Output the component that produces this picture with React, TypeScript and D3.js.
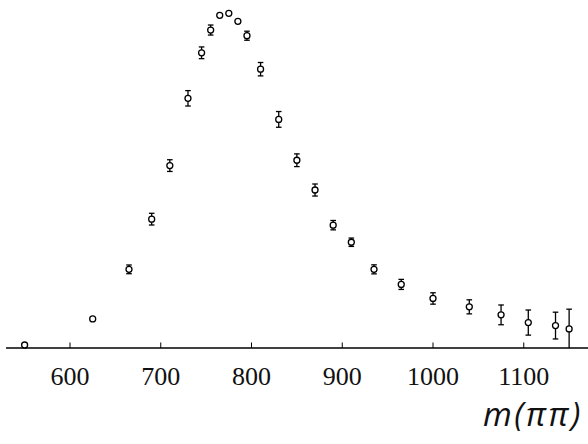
import React from "react";
import * as d3 from "d3";

// Invariant mass bins (MeV) and normalised event yields with errors
const masses = [550, 625, 665, 690, 710, 730, 745, 755, 765, 775, 785, 795, 810, 830, 850, 870, 890, 910, 935, 965, 1000, 1040, 1075, 1105, 1135, 1150];
const yields = [0.9, 8.7, 23.5, 38.5, 54.5, 74.6, 88.2, 95.0, 99.4, 100, 97.6, 93.3, 83.3, 68.3, 56.1, 47.2, 36.7, 31.6, 23.5, 19.0, 14.8, 12.3, 9.9, 7.6, 6.7, 5.7];
const errors = [0, 0, 1.3, 1.75, 1.75, 2.3, 1.75, 1.5, 0.8, 0.8, 0.8, 1.35, 2.0, 2.35, 1.9, 1.8, 1.4, 1.25, 1.35, 1.5, 1.7, 2.1, 2.95, 3.75, 4.0, 5.9];
const tickValues = [600, 700, 800, 900, 1000, 1100];
const axisTitle = "m(ππ)";

const W = 588;
const H = 444;

export default function App() {
  const x = d3.scaleLinear().domain([600, 1100]).range([70, 523.75]);
  const y = d3.scaleLinear().domain([0, 100]).range([348, 13.3]);
  const axisY = y(0);
  const cap = 2.8;
  const r = 3.0;

  return (
    <svg
      width={W}
      height={H}
      viewBox={`0 0 ${W} ${H}`}
      style={{ position: "absolute", left: 0, top: 0, background: "#fff" }}
    >
      {/* horizontal axis */}
      <line x1={6} x2={W} y1={axisY} y2={axisY} stroke="#000" strokeWidth={1.3} />
      {tickValues.map((t) => (
        <g key={t}>
          <line x1={x(t)} x2={x(t)} y1={axisY - 5.5} y2={axisY} stroke="#000" strokeWidth={1} />
          <text
            x={x(t)}
            y={385}
            textAnchor="middle"
            fontFamily="'Liberation Serif', serif"
            fontSize={26}
            fill="#111"
          >
            {t}
          </text>
        </g>
      ))}
      <text
        x={583}
        y={426}
        textAnchor="end"
        fontFamily="'Open Sans', sans-serif"
        fontStyle="italic"
        fontSize={33}
        letterSpacing={2.5}
        fill="#111"
      >
        {axisTitle}
      </text>

      {/* data points with error bars */}
      {masses.map((m, i) => {
        const cx = x(m);
        const cy = y(yields[i]);
        const top = y(yields[i] + errors[i]);
        const bot = Math.min(y(yields[i] - errors[i]), axisY);
        const showBar = errors[i] > 0 && cy - top > r;
        return (
          <g key={m}>
            {showBar && (
              <g stroke="#000" strokeWidth={1.3}>
                <line x1={cx} x2={cx} y1={top} y2={bot} />
                <line x1={cx - cap} x2={cx + cap} y1={top} y2={top} />
                {bot < axisY && <line x1={cx - cap} x2={cx + cap} y1={bot} y2={bot} />}
              </g>
            )}
            <circle cx={cx} cy={cy} r={r} fill="#fff" stroke="#000" strokeWidth={1.3} />
          </g>
        );
      })}
    </svg>
  );
}
